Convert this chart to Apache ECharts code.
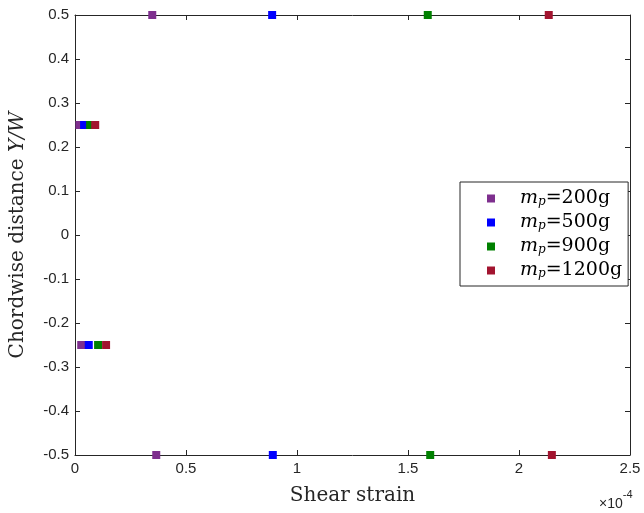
<!DOCTYPE html>
<html>
<head>
<meta charset="utf-8">
<script src="https://cdn.jsdelivr.net/npm/echarts@6/dist/echarts.min.js"></script>
<style>
  html, body { margin: 0; padding: 0; background: #fff; }
  #chart { width: 644px; height: 513px; }
</style>
</head>
<body>
<div id="chart"></div>
<script>
// Chordwise stations (Y/W) where the shear strain was measured
const stations = [0.5, 0.25, -0.25, -0.5];

// Shear strain at each station, in units of 1e-4
const strain200 = [0.348, 0.020, 0.028, 0.366];
const strain500 = [0.888, 0.041, 0.062, 0.891];
const strain900 = [1.589, 0.068, 0.104, 1.600];
const strain1200 = [2.134, 0.091, 0.140, 2.148];

const massLabels = ['200g', '500g', '900g', '1200g'];
const colors = ['#7E2F8E', '#0000FF', '#008000', '#A2142F'];
const strainSets = [strain200, strain500, strain900, strain1200];

const xTicks = [0, 0.5, 1, 1.5, 2, 2.5];
const yTicks = [-0.5, -0.4, -0.3, -0.2, -0.1, 0, 0.1, 0.2, 0.3, 0.4, 0.5];

const axisColor = '#262626';
const tickFont = 'Liberation Sans, Arial, sans-serif';
const serifFont = 'DejaVu Serif, Liberation Serif, serif';

const chart = echarts.init(document.getElementById('chart'), null, { renderer: 'canvas' });

function fmtTick(v) {
  return String(Math.round(v * 10) / 10);
}

const series = strainSets.map((vals, i) => ({
  name: massLabels[i],
  type: 'scatter',
  symbol: 'rect',
  symbolSize: 8,
  clip: false,
  itemStyle: { color: colors[i], opacity: 1 },
  emphasis: { disabled: true },
  data: vals.map((x, k) => [x, stations[k]])
}));

const baseAxis = {
  axisLine: { show: true, onZero: false, lineStyle: { color: axisColor, width: 1 } },
  axisTick: { show: true, inside: true, length: 5, lineStyle: { color: axisColor } },
  splitLine: { show: false }
};

chart.setOption({
  backgroundColor: '#fff',
  animation: false,
  grid: { left: 75, right: 14, top: 15, bottom: 58 },
  xAxis: [
    Object.assign({}, baseAxis, {
      type: 'value', position: 'bottom',
      min: xTicks[0], max: xTicks[xTicks.length - 1], interval: 0.5,
      axisLabel: { color: axisColor, fontFamily: tickFont, fontSize: 15, margin: 6, formatter: fmtTick },
      name: 'Shear strain',
      nameLocation: 'middle', nameGap: 31,
      nameTextStyle: { color: axisColor, fontFamily: serifFont, fontSize: 20 }
    }),
    Object.assign({}, baseAxis, {
      type: 'value', position: 'top',
      min: xTicks[0], max: xTicks[xTicks.length - 1], interval: 0.5,
      axisLabel: { show: false }
    })
  ],
  yAxis: [
    Object.assign({}, baseAxis, {
      type: 'value', position: 'left',
      min: yTicks[0], max: yTicks[yTicks.length - 1], interval: 0.1,
      axisLabel: { color: axisColor, fontFamily: tickFont, fontSize: 15, margin: 6, formatter: fmtTick },
      name: '{n|Chordwise distance }{i|Y/W}',
      nameLocation: 'middle', nameGap: 47,
      nameTextStyle: {
        rich: {
          n: { color: axisColor, fontFamily: serifFont, fontSize: 20 },
          i: { color: axisColor, fontFamily: serifFont, fontSize: 20, fontStyle: 'italic' }
        }
      }
    }),
    Object.assign({}, baseAxis, {
      type: 'value', position: 'right',
      min: yTicks[0], max: yTicks[yTicks.length - 1], interval: 0.1,
      axisLabel: { show: false }
    })
  ],
  legend: {
    orient: 'vertical',
    left: 460, top: 182,
    padding: [7, 6, 6, 27],
    itemGap: 5,
    itemWidth: 8, itemHeight: 8,
    icon: 'rect',
    backgroundColor: '#fff',
    borderColor: axisColor,
    borderWidth: 1,
    borderRadius: 0,
    selectedMode: false,
    data: massLabels,
    formatter: name => '{m|m}{p|p}{t|=' + name + '}',
    textStyle: {
      padding: [0, 0, 0, 20],
      rich: {
        m: { fontFamily: serifFont, fontSize: 19, fontStyle: 'italic', color: '#000', lineHeight: 18 },
        p: { fontFamily: serifFont, fontSize: 12, fontStyle: 'italic', color: '#000', lineHeight: 18, verticalAlign: 'bottom', padding: [6, 0, 0, 0] },
        t: { fontFamily: serifFont, fontSize: 19, color: '#000', lineHeight: 18 }
      }
    }
  },
  graphic: [{
    type: 'text',
    left: 599, top: 489,
    style: {
      text: '{a|×10}{b|-4}',
      rich: {
        a: { fontFamily: tickFont, fontSize: 14, fill: axisColor, padding: [8, 0, 0, 0] },
        b: { fontFamily: tickFont, fontSize: 11, fill: axisColor, verticalAlign: 'top' }
      }
    }
  }],
  series: series
});
</script>
</body>
</html>
